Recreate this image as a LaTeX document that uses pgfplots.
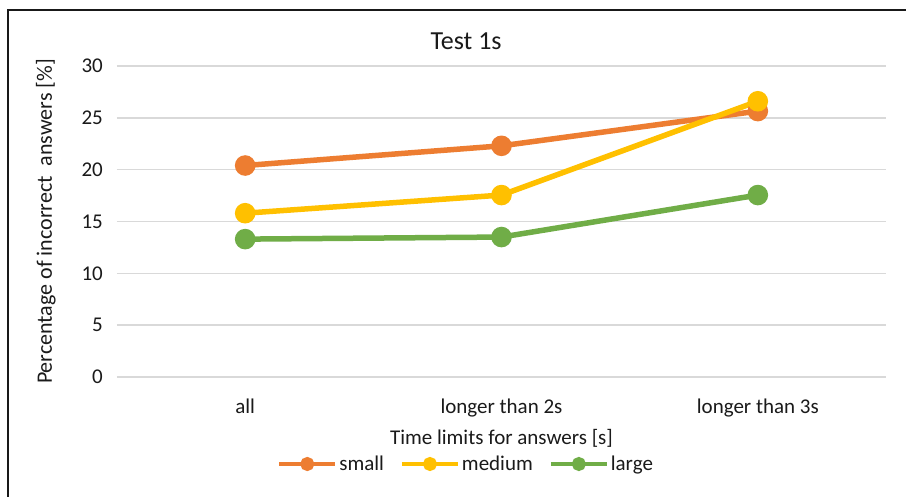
\documentclass[border=0pt]{standalone}
\usepackage{pgfplots}
\pgfplotsset{compat=1.18}
\usepackage{fontspec}
\setmainfont{Carlito}
\definecolor{cS}{HTML}{ED7D31}
\definecolor{cM}{HTML}{FFC000}
\definecolor{cL}{HTML}{70AD47}
\definecolor{gridgray}{HTML}{D9D9D9}
\definecolor{txt}{HTML}{1A1A1A}
\pgfplotstableread{
x small medium large
0 20.4 15.8 13.3
1 22.3 17.55 13.5
2 25.65 26.6 17.55
}\datatable
\begin{document}
\begin{tikzpicture}
\useasboundingbox (-117bp,-120bp) rectangle (789bp,377bp);
\fill[white] (-117bp,-120bp) rectangle (789bp,377bp);
\draw[line width=1.6bp, black!90] (-109bp,-125bp) -- (-109bp,367bp) -- (795bp,367bp);
\begin{axis}[
  at={(0,0)}, anchor=south west,
  scale only axis, width=769bp, height=311bp,
  xmin=-0.5, xmax=2.5, ymin=0, ymax=30,
  xtick={0,1,2}, xticklabels={all, longer than 2s, longer than 3s},
  ytick={0,5,...,30},
  axis line style={draw=none}, major tick length=0pt,
  ymajorgrids, grid style={color=gridgray, line width=1.4bp},
  tick label style={font=\fontsize{21bp}{25bp}\selectfont, text=txt},
  /pgf/number format/assume math mode=true,
  yticklabel style={anchor=east, inner sep=0pt, xshift=-14bp},
  xticklabel style={anchor=base, inner sep=0pt, yshift=-36bp},
  title={Test 1s},
  title style={at={(axis description cs:0.454,1)}, anchor=base, inner sep=0pt, yshift=11bp, font=\fontsize{26bp}{30bp}\selectfont, text=txt},
  xlabel={Time limits for answers [s]},
  xlabel style={at={([yshift=-67bp]axis description cs:0.5,0)}, anchor=base, inner sep=0pt, font=\fontsize{21bp}{25bp}\selectfont, text=txt},
  ylabel={Percentage of incorrect\ \ answers [\%]},
  ylabel style={at={([xshift=-65bp]axis description cs:0,0.5)}, anchor=base, rotate=0, inner sep=0pt, font=\fontsize{22bp}{26bp}\selectfont, text=txt},
  legend columns=-1,
  legend style={at={([yshift=-87bp]axis description cs:0.454,0)}, anchor=center, draw=none, fill=none,
    font=\fontsize{21bp}{25bp}\selectfont, text=txt, inner sep=0pt,
    /tikz/every even column/.append style={column sep=14bp},
    nodes={inner sep=2bp}},
  legend image code/.code={\draw[#1, line width=4bp, mark size=5bp, mark repeat=2, mark phase=2] plot coordinates {(0bp,0bp) (28bp,0bp) (56bp,0bp)};},
  clip=false,
]
\addplot[cS, line width=5.5bp, mark=*, mark size=7.5bp, mark options={fill=cS, draw=cS}] table[x=x, y=small] {\datatable};
\addlegendentry{small}
\addplot[cM, line width=5.5bp, mark=*, mark size=7.5bp, mark options={fill=cM, draw=cM}] table[x=x, y=medium] {\datatable};
\addlegendentry{medium}
\addplot[cL, line width=5.5bp, mark=*, mark size=7.5bp, mark options={fill=cL, draw=cL}] table[x=x, y=large] {\datatable};
\addlegendentry{large}
\end{axis}
\end{tikzpicture}
\end{document}
